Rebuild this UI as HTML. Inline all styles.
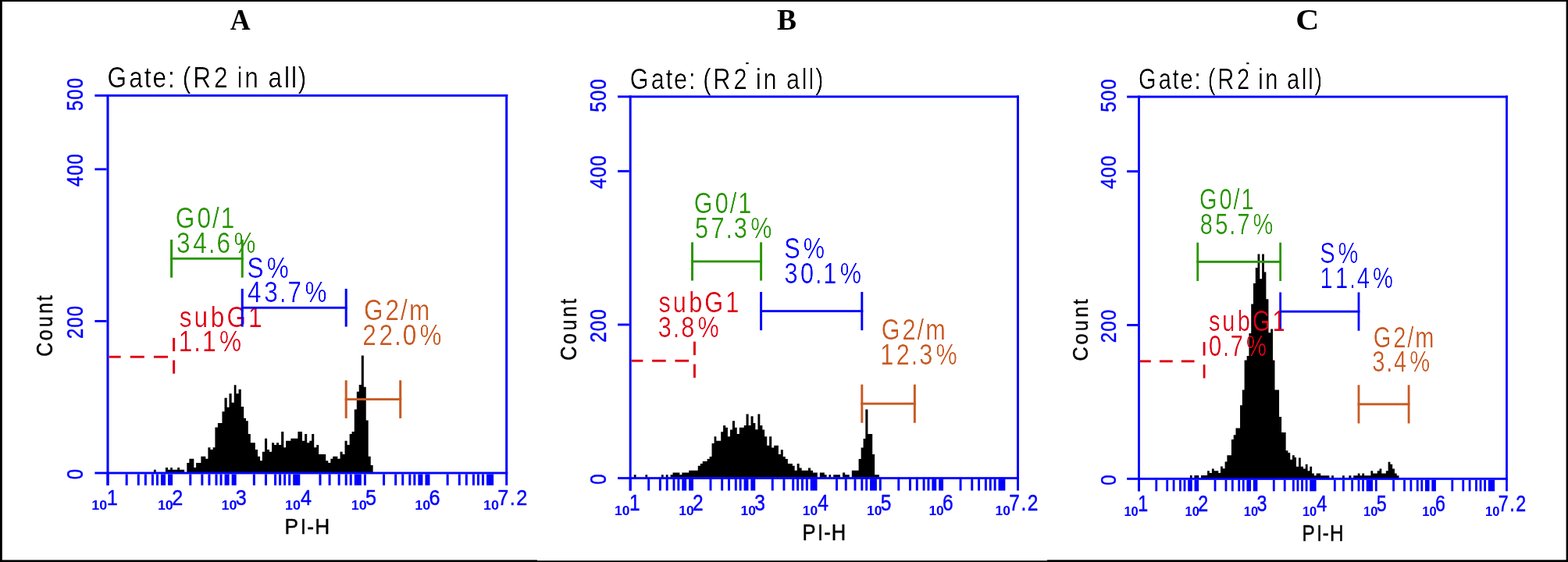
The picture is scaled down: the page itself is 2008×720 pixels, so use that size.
<!DOCTYPE html>
<html><head><meta charset="utf-8"><title>Cell cycle histograms</title>
<style>
html,body{margin:0;padding:0;background:#fff;}
body{width:2008px;height:720px;overflow:hidden;}
svg{display:block;}
text{white-space:pre;}
</style></head><body>
<svg width="2008" height="720" viewBox="0 0 2008 720">
<defs><filter id="thin" x="-5%" y="-20%" width="110%" height="140%" color-interpolation-filters="sRGB"><feComponentTransfer><feFuncA type="linear" slope="1.5" intercept="-0.5"/></feComponentTransfer></filter></defs>
<rect x="0" y="0" width="2008" height="720" fill="#fff"/>
<path d="M196.94 605.07V601.67H199.72V605.07ZM211.94 605.07V598.89H215.00V601.67H218.19V598.89H220.83V601.67H227.22V598.89H230.00V601.67H236.11V605.07ZM239.31 605.07V593.06H242.36V587.78H248.33V598.89H251.11V593.06H257.36V584.72H263.33V587.78H266.39V573.19H269.44V575.97H272.64V573.19H275.42V547.50H278.89V541.94H284.44V527.22H287.50V509.86H290.69V521.67H293.47V504.31H296.67V515.83H299.72V493.19H302.50V504.31H305.56V498.75H308.75V521.11H312.22V535.69H315.00V539.17H317.78V556.11H320.83V567.22H326.81V575.97H330.00V584.72H333.06V590.28H335.83V578.75H339.03V561.67H342.08V575.97H345.00V578.75H348.06V567.22H351.11V570.00H354.03V567.22H357.08V570.00H360.14V553.06H363.33V573.19H366.11V564.86H372.36V561.67H381.39V553.06H386.94V564.86H390.14V556.11H393.19V567.22H396.25V564.86H399.17V556.11H402.22V573.19H405.28V570.00H408.19V581.94H417.22V590.28H420.28V593.06H423.33V587.78H426.25V584.72H432.36V587.78H435.56V578.75H438.61V581.94H441.53V564.86H444.58V570.00H447.64V556.11H450.56V553.06H453.75V524.44H456.81V501.81H459.72V493.06H462.78V455.56H465.83V495.83H468.75V538.61H471.67V584.72H474.72V596.11H477.64V605.07Z" fill="#000"/>
<rect x="121.38" y="120.97" width="528.83" height="2.86" fill="#0000ff"/>
<rect x="121.38" y="604.57" width="528.83" height="2.86" fill="#0000ff"/>
<rect x="136.49" y="120.97" width="3.02" height="500.77" fill="#0000ff"/>
<rect x="647.19" y="120.97" width="3.02" height="500.77" fill="#0000ff"/>
<rect x="121.38" y="215.40" width="15.11" height="2.86" fill="#0000ff"/>
<rect x="121.38" y="409.98" width="15.11" height="2.86" fill="#0000ff"/>
<rect x="136.49" y="607.43" width="3.02" height="14.31" fill="#0000ff"/>
<rect x="160.66" y="607.43" width="3.02" height="14.31" fill="#0000ff"/>
<rect x="175.77" y="607.43" width="3.02" height="14.31" fill="#0000ff"/>
<rect x="184.84" y="607.43" width="3.02" height="14.31" fill="#0000ff"/>
<rect x="193.91" y="607.43" width="3.02" height="14.31" fill="#0000ff"/>
<rect x="199.95" y="607.43" width="3.02" height="14.31" fill="#0000ff"/>
<rect x="205.99" y="607.43" width="6.04" height="14.31" fill="#0000ff"/>
<rect x="215.06" y="607.43" width="6.04" height="14.31" fill="#0000ff"/>
<rect x="242.26" y="607.43" width="3.02" height="14.31" fill="#0000ff"/>
<rect x="257.36" y="607.43" width="3.02" height="14.31" fill="#0000ff"/>
<rect x="266.43" y="607.43" width="3.02" height="14.31" fill="#0000ff"/>
<rect x="275.50" y="607.43" width="3.02" height="14.31" fill="#0000ff"/>
<rect x="281.54" y="607.43" width="3.02" height="14.31" fill="#0000ff"/>
<rect x="287.58" y="607.43" width="6.04" height="14.31" fill="#0000ff"/>
<rect x="296.65" y="607.43" width="6.04" height="14.31" fill="#0000ff"/>
<rect x="323.85" y="607.43" width="3.02" height="14.31" fill="#0000ff"/>
<rect x="338.96" y="607.43" width="3.02" height="14.31" fill="#0000ff"/>
<rect x="351.04" y="607.43" width="3.02" height="14.31" fill="#0000ff"/>
<rect x="357.09" y="607.43" width="3.02" height="14.31" fill="#0000ff"/>
<rect x="363.13" y="607.43" width="3.02" height="14.31" fill="#0000ff"/>
<rect x="369.17" y="607.43" width="3.02" height="14.31" fill="#0000ff"/>
<rect x="375.22" y="607.43" width="9.07" height="14.31" fill="#0000ff"/>
<rect x="408.46" y="607.43" width="3.02" height="14.31" fill="#0000ff"/>
<rect x="420.55" y="607.43" width="3.02" height="14.31" fill="#0000ff"/>
<rect x="432.63" y="607.43" width="3.02" height="14.31" fill="#0000ff"/>
<rect x="441.70" y="607.43" width="3.02" height="14.31" fill="#0000ff"/>
<rect x="447.74" y="607.43" width="3.02" height="14.31" fill="#0000ff"/>
<rect x="453.79" y="607.43" width="9.07" height="14.31" fill="#0000ff"/>
<rect x="465.88" y="607.43" width="3.02" height="14.31" fill="#0000ff"/>
<rect x="490.05" y="607.43" width="3.02" height="14.31" fill="#0000ff"/>
<rect x="505.16" y="607.43" width="3.02" height="14.31" fill="#0000ff"/>
<rect x="514.23" y="607.43" width="3.02" height="14.31" fill="#0000ff"/>
<rect x="523.29" y="607.43" width="3.02" height="14.31" fill="#0000ff"/>
<rect x="529.34" y="607.43" width="3.02" height="14.31" fill="#0000ff"/>
<rect x="535.38" y="607.43" width="6.04" height="14.31" fill="#0000ff"/>
<rect x="544.44" y="607.43" width="6.04" height="14.31" fill="#0000ff"/>
<rect x="571.64" y="607.43" width="3.02" height="14.31" fill="#0000ff"/>
<rect x="586.75" y="607.43" width="3.02" height="14.31" fill="#0000ff"/>
<rect x="595.82" y="607.43" width="3.02" height="14.31" fill="#0000ff"/>
<rect x="604.88" y="607.43" width="3.02" height="14.31" fill="#0000ff"/>
<rect x="610.93" y="607.43" width="3.02" height="14.31" fill="#0000ff"/>
<rect x="616.97" y="607.43" width="3.02" height="14.31" fill="#0000ff"/>
<rect x="623.01" y="607.43" width="9.07" height="14.31" fill="#0000ff"/>
<rect x="139.51" y="455.77" width="15.11" height="2.86" fill="#de0014"/>
<rect x="166.71" y="455.77" width="18.13" height="2.86" fill="#de0014"/>
<rect x="196.93" y="455.77" width="18.13" height="2.86" fill="#de0014"/>
<rect x="221.10" y="432.88" width="3.02" height="17.17" fill="#de0014"/>
<rect x="221.10" y="461.49" width="3.02" height="17.17" fill="#de0014"/>
<rect x="218.08" y="306.97" width="3.02" height="48.65" fill="#299503"/>
<rect x="308.74" y="306.97" width="3.02" height="48.65" fill="#299503"/>
<rect x="218.08" y="329.86" width="93.68" height="2.86" fill="#299503"/>
<rect x="441.70" y="487.25" width="3.02" height="48.65" fill="#c85a23"/>
<rect x="511.20" y="487.25" width="3.02" height="48.65" fill="#c85a23"/>
<rect x="441.70" y="510.14" width="72.53" height="2.86" fill="#c85a23"/>
<text transform="translate(294.64 38.00) scale(0.3589 0.3893)" font-family="'Liberation Serif', sans-serif" font-size="100" font-weight="bold" fill="#000">A</text>
<text transform="translate(117.28 653.22) scale(0.1795 0.1659)" font-family="'Liberation Sans', sans-serif" font-size="100" font-weight="bold" fill="#0000ff">10</text>
<text transform="translate(201.89 653.22) scale(0.1795 0.1659)" font-family="'Liberation Sans', sans-serif" font-size="100" font-weight="bold" fill="#0000ff">10</text>
<text transform="translate(283.48 653.22) scale(0.1795 0.1659)" font-family="'Liberation Sans', sans-serif" font-size="100" font-weight="bold" fill="#0000ff">10</text>
<text transform="translate(365.08 653.22) scale(0.1795 0.1659)" font-family="'Liberation Sans', sans-serif" font-size="100" font-weight="bold" fill="#0000ff">10</text>
<text transform="translate(449.69 653.22) scale(0.1795 0.1659)" font-family="'Liberation Sans', sans-serif" font-size="100" font-weight="bold" fill="#0000ff">10</text>
<text transform="translate(531.28 653.22) scale(0.1795 0.1659)" font-family="'Liberation Sans', sans-serif" font-size="100" font-weight="bold" fill="#0000ff">10</text>
<text transform="translate(618.91 653.22) scale(0.1795 0.1659)" font-family="'Liberation Sans', sans-serif" font-size="100" font-weight="bold" fill="#0000ff">10</text>
<text transform="translate(136.27 112.38) scale(0.3155 0.3732)" x="4.2 91.9 153.7 187.7 249.5 278.3 309.0 351.8 436.8 498.6 530.1 561.3 623.1 657.1 721.6 750.4 778.4" font-family="'Liberation Sans', sans-serif" font-size="100" filter="url(#thin)" fill="#000">Gate: (R2 in all)</text>
<text transform="translate(106.05 142.48) rotate(-90) scale(0.2390 0.3002)" x="2.1 62.0 121.9" font-family="'Liberation Sans', sans-serif" font-size="100" stroke="#0000ff" stroke-width="1.60" stroke-linejoin="round" fill="#0000ff">500</text>
<text transform="translate(106.05 239.53) rotate(-90) scale(0.2390 0.3002)" x="2.1 62.0 121.9" font-family="'Liberation Sans', sans-serif" font-size="100" stroke="#0000ff" stroke-width="1.60" stroke-linejoin="round" fill="#0000ff">400</text>
<text transform="translate(106.05 434.47) rotate(-90) scale(0.2390 0.3002)" x="2.1 62.0 121.9" font-family="'Liberation Sans', sans-serif" font-size="100" stroke="#0000ff" stroke-width="1.60" stroke-linejoin="round" fill="#0000ff">200</text>
<text transform="translate(106.05 614.63) rotate(-90) scale(0.2390 0.3002)" x="2.1" font-family="'Liberation Sans', sans-serif" font-size="100" stroke="#0000ff" stroke-width="1.60" stroke-linejoin="round" fill="#0000ff">0</text>
<text transform="translate(66.76 457.82) rotate(-90) scale(0.2490 0.3002)" x="4.1 87.1 156.1 225.1 290.7" font-family="'Liberation Sans', sans-serif" font-size="100" stroke="#000" stroke-width="1.60" stroke-linejoin="round" fill="#000">Count</text>
<text transform="translate(362.80 684.48) scale(0.2629 0.2842)" x="6.9 83.8 115.5 153.5" font-family="'Liberation Sans', sans-serif" font-size="100" stroke="#000" stroke-width="1.60" stroke-linejoin="round" fill="#000">PI-H</text>
<text transform="translate(136.13 647.28) scale(0.2524 0.2842)" x="2.1" font-family="'Liberation Sans', sans-serif" font-size="100" stroke="#0000ff" stroke-width="1.60" stroke-linejoin="round" fill="#0000ff">1</text>
<text transform="translate(219.61 647.28) scale(0.2524 0.2842)" x="2.1" font-family="'Liberation Sans', sans-serif" font-size="100" stroke="#0000ff" stroke-width="1.60" stroke-linejoin="round" fill="#0000ff">2</text>
<text transform="translate(301.20 647.28) scale(0.2524 0.2842)" x="2.1" font-family="'Liberation Sans', sans-serif" font-size="100" stroke="#0000ff" stroke-width="1.60" stroke-linejoin="round" fill="#0000ff">3</text>
<text transform="translate(384.43 647.28) scale(0.2524 0.2842)" x="2.1" font-family="'Liberation Sans', sans-serif" font-size="100" stroke="#0000ff" stroke-width="1.60" stroke-linejoin="round" fill="#0000ff">4</text>
<text transform="translate(467.40 647.28) scale(0.2524 0.2842)" x="2.1" font-family="'Liberation Sans', sans-serif" font-size="100" stroke="#0000ff" stroke-width="1.60" stroke-linejoin="round" fill="#0000ff">5</text>
<text transform="translate(548.87 647.28) scale(0.2524 0.2842)" x="2.1" font-family="'Liberation Sans', sans-serif" font-size="100" stroke="#0000ff" stroke-width="1.60" stroke-linejoin="round" fill="#0000ff">6</text>
<text transform="translate(636.63 647.28) scale(0.2524 0.2842)" x="2.1 63.9 97.9" font-family="'Liberation Sans', sans-serif" font-size="100" stroke="#0000ff" stroke-width="1.60" stroke-linejoin="round" fill="#0000ff">7.2</text>
<text transform="translate(223.53 292.20) scale(0.3155 0.3696)" x="4.2 91.9 153.7 187.7" font-family="'Liberation Sans', sans-serif" font-size="100" filter="url(#thin)" fill="#299503">G0/1</text>
<text transform="translate(224.27 323.80) scale(0.3155 0.3696)" x="5.7 72.8 134.6 168.6 238.1" font-family="'Liberation Sans', sans-serif" font-size="100" filter="url(#thin)" fill="#299503">34.6%</text>
<text transform="translate(315.04 355.60) scale(0.3155 0.3725)" x="5.0 84.9" font-family="'Liberation Sans', sans-serif" font-size="100" filter="url(#thin)" fill="#0000ff">S%</text>
<text transform="translate(315.29 387.10) scale(0.3155 0.3725)" x="5.7 72.8 134.6 168.6 238.1" font-family="'Liberation Sans', sans-serif" font-size="100" filter="url(#thin)" fill="#0000ff">43.7%</text>
<text transform="translate(228.66 418.60) scale(0.3155 0.3725)" x="3.7 63.2 130.2 195.8 283.5" font-family="'Liberation Sans', sans-serif" font-size="100" filter="url(#thin)" fill="#de0014">subG1</text>
<text transform="translate(227.05 450.10) scale(0.3155 0.3739)" x="5.7 67.5 101.5 171.1" font-family="'Liberation Sans', sans-serif" font-size="100" filter="url(#thin)" fill="#de0014">1.1%</text>
<text transform="translate(464.58 410.00) scale(0.3155 0.3725)" x="4.2 91.9 153.7 188.2" font-family="'Liberation Sans', sans-serif" font-size="100" filter="url(#thin)" fill="#c85a23">G2/m</text>
<text transform="translate(462.51 441.50) scale(0.3155 0.3732)" x="5.7 72.8 134.6 168.6 238.1" font-family="'Liberation Sans', sans-serif" font-size="100" filter="url(#thin)" fill="#c85a23">22.0%</text>
<rect x="308.74" y="369.92" width="3.02" height="48.65" fill="#0000ff"/>
<rect x="441.70" y="369.92" width="3.02" height="48.65" fill="#0000ff"/>
<rect x="308.74" y="392.82" width="135.99" height="2.86" fill="#0000ff"/>
<path d="M811.81 611.65V608.19H814.58V611.65ZM826.39 611.65V608.19H829.17V611.65ZM846.94 611.65V608.19H849.72V611.65ZM852.78 611.65V608.19H855.56V611.65ZM858.61 611.65V608.19H861.53V605.42H870.42V608.19H873.33V605.42H882.22V602.64H893.75V596.81H896.81V594.03H899.72V591.11H905.56V588.06H908.61V585.00H911.53V567.92H914.58V559.31H917.36V564.72H923.19V553.33H926.11V545.00H929.17V547.78H931.94V559.31H935.00V550.56H937.92V539.17H940.97V547.78H943.75V556.11H946.81V547.78H952.78V545.00H955.56V530.42H958.61V545.00H961.53V533.19H964.58V541.94H967.36V550.28H970.42V530.42H973.33V545.00H976.39V550.56H979.17V559.31H982.22V570.69H985.14V559.31H988.19V573.47H991.25V570.69H996.94V582.08H999.86V576.25H1002.78V585.00H1005.83V588.06H1008.89V594.03H1014.86V596.81H1017.64V602.64H1020.69V594.03H1023.61V599.58H1026.67V602.64H1035.00V599.58H1038.06V602.64H1040.97V605.42H1046.81V611.65ZM1049.86 611.65V605.42H1055.83V608.19H1058.61V611.65ZM1061.39 611.65V608.19H1064.17V611.65ZM1067.22 611.65V608.19H1075.97V611.65ZM1079.03 611.65V605.42H1082.22V608.19H1087.78V611.65ZM1090.83 611.65V602.64H1099.58V588.06H1102.64V573.47H1105.56V562.08H1108.33V524.58H1111.39V556.11H1117.22V582.08H1120.14V608.19H1125.97V611.65Z" fill="#000"/>
<rect x="791.05" y="122.40" width="513.92" height="2.89" fill="#0000ff"/>
<rect x="791.05" y="611.15" width="513.92" height="2.89" fill="#0000ff"/>
<rect x="805.73" y="122.40" width="2.94" height="506.10" fill="#0000ff"/>
<rect x="1302.03" y="122.40" width="2.94" height="506.10" fill="#0000ff"/>
<rect x="791.05" y="217.84" width="14.68" height="2.89" fill="#0000ff"/>
<rect x="791.05" y="414.50" width="14.68" height="2.89" fill="#0000ff"/>
<rect x="805.73" y="614.05" width="2.94" height="14.46" fill="#0000ff"/>
<rect x="829.23" y="614.05" width="2.94" height="14.46" fill="#0000ff"/>
<rect x="843.91" y="614.05" width="2.94" height="14.46" fill="#0000ff"/>
<rect x="852.72" y="614.05" width="2.94" height="14.46" fill="#0000ff"/>
<rect x="861.53" y="614.05" width="2.94" height="14.46" fill="#0000ff"/>
<rect x="867.40" y="614.05" width="2.94" height="14.46" fill="#0000ff"/>
<rect x="873.28" y="614.05" width="5.87" height="14.46" fill="#0000ff"/>
<rect x="882.09" y="614.05" width="5.87" height="14.46" fill="#0000ff"/>
<rect x="908.52" y="614.05" width="2.94" height="14.46" fill="#0000ff"/>
<rect x="923.20" y="614.05" width="2.94" height="14.46" fill="#0000ff"/>
<rect x="932.01" y="614.05" width="2.94" height="14.46" fill="#0000ff"/>
<rect x="940.82" y="614.05" width="2.94" height="14.46" fill="#0000ff"/>
<rect x="946.69" y="614.05" width="2.94" height="14.46" fill="#0000ff"/>
<rect x="952.57" y="614.05" width="5.87" height="14.46" fill="#0000ff"/>
<rect x="961.38" y="614.05" width="5.87" height="14.46" fill="#0000ff"/>
<rect x="987.81" y="614.05" width="2.94" height="14.46" fill="#0000ff"/>
<rect x="1002.49" y="614.05" width="2.94" height="14.46" fill="#0000ff"/>
<rect x="1014.24" y="614.05" width="2.94" height="14.46" fill="#0000ff"/>
<rect x="1020.11" y="614.05" width="2.94" height="14.46" fill="#0000ff"/>
<rect x="1025.98" y="614.05" width="2.94" height="14.46" fill="#0000ff"/>
<rect x="1031.86" y="614.05" width="2.94" height="14.46" fill="#0000ff"/>
<rect x="1037.73" y="614.05" width="8.81" height="14.46" fill="#0000ff"/>
<rect x="1070.03" y="614.05" width="2.94" height="14.46" fill="#0000ff"/>
<rect x="1081.78" y="614.05" width="2.94" height="14.46" fill="#0000ff"/>
<rect x="1093.53" y="614.05" width="2.94" height="14.46" fill="#0000ff"/>
<rect x="1102.34" y="614.05" width="2.94" height="14.46" fill="#0000ff"/>
<rect x="1108.21" y="614.05" width="2.94" height="14.46" fill="#0000ff"/>
<rect x="1114.08" y="614.05" width="8.81" height="14.46" fill="#0000ff"/>
<rect x="1125.83" y="614.05" width="2.94" height="14.46" fill="#0000ff"/>
<rect x="1149.32" y="614.05" width="2.94" height="14.46" fill="#0000ff"/>
<rect x="1164.01" y="614.05" width="2.94" height="14.46" fill="#0000ff"/>
<rect x="1172.82" y="614.05" width="2.94" height="14.46" fill="#0000ff"/>
<rect x="1181.63" y="614.05" width="2.94" height="14.46" fill="#0000ff"/>
<rect x="1187.50" y="614.05" width="2.94" height="14.46" fill="#0000ff"/>
<rect x="1193.37" y="614.05" width="5.87" height="14.46" fill="#0000ff"/>
<rect x="1202.18" y="614.05" width="5.87" height="14.46" fill="#0000ff"/>
<rect x="1228.61" y="614.05" width="2.94" height="14.46" fill="#0000ff"/>
<rect x="1243.30" y="614.05" width="2.94" height="14.46" fill="#0000ff"/>
<rect x="1252.11" y="614.05" width="2.94" height="14.46" fill="#0000ff"/>
<rect x="1260.92" y="614.05" width="2.94" height="14.46" fill="#0000ff"/>
<rect x="1266.79" y="614.05" width="2.94" height="14.46" fill="#0000ff"/>
<rect x="1272.66" y="614.05" width="2.94" height="14.46" fill="#0000ff"/>
<rect x="1278.54" y="614.05" width="8.81" height="14.46" fill="#0000ff"/>
<rect x="808.67" y="460.77" width="14.68" height="2.89" fill="#de0014"/>
<rect x="835.10" y="460.77" width="17.62" height="2.89" fill="#de0014"/>
<rect x="864.47" y="460.77" width="17.62" height="2.89" fill="#de0014"/>
<rect x="887.96" y="437.63" width="2.94" height="17.35" fill="#de0014"/>
<rect x="887.96" y="466.55" width="2.94" height="17.35" fill="#de0014"/>
<rect x="885.02" y="310.38" width="2.94" height="49.16" fill="#299503"/>
<rect x="973.12" y="310.38" width="2.94" height="49.16" fill="#299503"/>
<rect x="885.02" y="333.52" width="91.04" height="2.89" fill="#299503"/>
<rect x="973.12" y="374.01" width="2.94" height="49.16" fill="#0000ff"/>
<rect x="1102.34" y="374.01" width="2.94" height="49.16" fill="#0000ff"/>
<rect x="973.12" y="397.15" width="132.15" height="2.89" fill="#0000ff"/>
<rect x="1102.34" y="492.58" width="2.94" height="49.16" fill="#c85a23"/>
<rect x="1169.88" y="492.58" width="2.94" height="49.16" fill="#c85a23"/>
<rect x="1102.34" y="515.72" width="70.48" height="2.89" fill="#c85a23"/>
<text transform="translate(994.94 38.00) scale(0.3760 0.3817)" font-family="'Liberation Serif', sans-serif" font-size="100" font-weight="bold" fill="#000">B</text>
<text transform="translate(787.06 660.32) scale(0.1745 0.1677)" font-family="'Liberation Sans', sans-serif" font-size="100" font-weight="bold" fill="#0000ff">10</text>
<text transform="translate(869.29 660.32) scale(0.1745 0.1677)" font-family="'Liberation Sans', sans-serif" font-size="100" font-weight="bold" fill="#0000ff">10</text>
<text transform="translate(948.58 660.32) scale(0.1745 0.1677)" font-family="'Liberation Sans', sans-serif" font-size="100" font-weight="bold" fill="#0000ff">10</text>
<text transform="translate(1027.87 660.32) scale(0.1745 0.1677)" font-family="'Liberation Sans', sans-serif" font-size="100" font-weight="bold" fill="#0000ff">10</text>
<text transform="translate(1110.10 660.32) scale(0.1745 0.1677)" font-family="'Liberation Sans', sans-serif" font-size="100" font-weight="bold" fill="#0000ff">10</text>
<text transform="translate(1189.39 660.32) scale(0.1745 0.1677)" font-family="'Liberation Sans', sans-serif" font-size="100" font-weight="bold" fill="#0000ff">10</text>
<text transform="translate(1274.55 660.32) scale(0.1745 0.1677)" font-family="'Liberation Sans', sans-serif" font-size="100" font-weight="bold" fill="#0000ff">10</text>
<text transform="translate(805.52 113.73) scale(0.3066 0.3772)" x="4.2 91.9 153.7 187.7 249.5 278.3 309.0 351.8 436.8 498.6 530.1 561.3 623.1 657.1 721.6 750.4 778.4" font-family="'Liberation Sans', sans-serif" font-size="100" filter="url(#thin)" fill="#000">Gate: (R2 in all)</text>
<text transform="translate(776.15 144.14) rotate(-90) scale(0.2415 0.2917)" x="2.1 62.0 121.9" font-family="'Liberation Sans', sans-serif" font-size="100" stroke="#0000ff" stroke-width="1.60" stroke-linejoin="round" fill="#0000ff">500</text>
<text transform="translate(776.15 242.23) rotate(-90) scale(0.2415 0.2917)" x="2.1 62.0 121.9" font-family="'Liberation Sans', sans-serif" font-size="100" stroke="#0000ff" stroke-width="1.60" stroke-linejoin="round" fill="#0000ff">400</text>
<text transform="translate(776.15 439.25) rotate(-90) scale(0.2415 0.2917)" x="2.1 62.0 121.9" font-family="'Liberation Sans', sans-serif" font-size="100" stroke="#0000ff" stroke-width="1.60" stroke-linejoin="round" fill="#0000ff">200</text>
<text transform="translate(776.15 621.32) rotate(-90) scale(0.2415 0.2917)" x="2.1" font-family="'Liberation Sans', sans-serif" font-size="100" stroke="#0000ff" stroke-width="1.60" stroke-linejoin="round" fill="#0000ff">0</text>
<text transform="translate(737.97 462.84) rotate(-90) scale(0.2516 0.2917)" x="4.1 87.1 156.1 225.1 290.7" font-family="'Liberation Sans', sans-serif" font-size="100" stroke="#000" stroke-width="1.60" stroke-linejoin="round" fill="#000">Count</text>
<text transform="translate(1025.66 691.92) scale(0.2555 0.2873)" x="6.9 83.8 115.5 153.5" font-family="'Liberation Sans', sans-serif" font-size="100" stroke="#000" stroke-width="1.60" stroke-linejoin="round" fill="#000">PI-H</text>
<text transform="translate(805.38 654.32) scale(0.2453 0.2873)" x="2.1" font-family="'Liberation Sans', sans-serif" font-size="100" stroke="#0000ff" stroke-width="1.60" stroke-linejoin="round" fill="#0000ff">1</text>
<text transform="translate(886.50 654.32) scale(0.2453 0.2873)" x="2.1" font-family="'Liberation Sans', sans-serif" font-size="100" stroke="#0000ff" stroke-width="1.60" stroke-linejoin="round" fill="#0000ff">2</text>
<text transform="translate(965.80 654.32) scale(0.2453 0.2873)" x="2.1" font-family="'Liberation Sans', sans-serif" font-size="100" stroke="#0000ff" stroke-width="1.60" stroke-linejoin="round" fill="#0000ff">3</text>
<text transform="translate(1046.68 654.32) scale(0.2453 0.2873)" x="2.1" font-family="'Liberation Sans', sans-serif" font-size="100" stroke="#0000ff" stroke-width="1.60" stroke-linejoin="round" fill="#0000ff">4</text>
<text transform="translate(1127.31 654.32) scale(0.2453 0.2873)" x="2.1" font-family="'Liberation Sans', sans-serif" font-size="100" stroke="#0000ff" stroke-width="1.60" stroke-linejoin="round" fill="#0000ff">5</text>
<text transform="translate(1206.48 654.32) scale(0.2453 0.2873)" x="2.1" font-family="'Liberation Sans', sans-serif" font-size="100" stroke="#0000ff" stroke-width="1.60" stroke-linejoin="round" fill="#0000ff">6</text>
<text transform="translate(1291.77 654.32) scale(0.2453 0.2873)" x="2.1 63.9 97.9" font-family="'Liberation Sans', sans-serif" font-size="100" stroke="#0000ff" stroke-width="1.60" stroke-linejoin="round" fill="#0000ff">7.2</text>
<text transform="translate(887.59 273.00) scale(0.3066 0.3768)" x="4.2 91.9 153.7 187.7" font-family="'Liberation Sans', sans-serif" font-size="100" filter="url(#thin)" fill="#299503">G0/1</text>
<text transform="translate(888.15 304.50) scale(0.3066 0.3732)" x="5.7 72.8 134.6 168.6 238.1" font-family="'Liberation Sans', sans-serif" font-size="100" filter="url(#thin)" fill="#299503">57.3%</text>
<text transform="translate(1002.69 330.80) scale(0.3066 0.3739)" x="5.0 84.9" font-family="'Liberation Sans', sans-serif" font-size="100" filter="url(#thin)" fill="#0000ff">S%</text>
<text transform="translate(1002.65 362.70) scale(0.3066 0.3725)" x="5.7 72.8 134.6 168.6 238.1" font-family="'Liberation Sans', sans-serif" font-size="100" filter="url(#thin)" fill="#0000ff">30.1%</text>
<text transform="translate(842.31 400.20) scale(0.3066 0.3725)" x="3.7 63.2 130.2 195.8 283.5" font-family="'Liberation Sans', sans-serif" font-size="100" filter="url(#thin)" fill="#de0014">subG1</text>
<text transform="translate(841.08 432.00) scale(0.3066 0.3732)" x="5.7 67.5 101.5 171.1" font-family="'Liberation Sans', sans-serif" font-size="100" filter="url(#thin)" fill="#de0014">3.8%</text>
<text transform="translate(1127.43 435.30) scale(0.3066 0.3739)" x="4.2 91.9 153.7 188.2" font-family="'Liberation Sans', sans-serif" font-size="100" filter="url(#thin)" fill="#c85a23">G2/m</text>
<text transform="translate(1125.48 467.00) scale(0.3066 0.3732)" x="5.7 72.8 134.6 168.6 238.1" font-family="'Liberation Sans', sans-serif" font-size="100" filter="url(#thin)" fill="#c85a23">12.3%</text>
<rect x="955.30" y="80.02" width="3.34" height="2.09" fill="#000"/>
<path d="M1523.89 612.45V608.89H1526.67V612.45ZM1529.44 612.45V608.89H1535.28V612.45ZM1538.06 612.45V608.89H1546.11V603.33H1548.89V606.11H1551.94V600.56H1554.72V603.33H1560.28V606.11H1563.06V597.50H1565.83V600.28H1568.61V591.53H1571.39V583.19H1576.94V563.06H1579.72V557.22H1582.50V548.47H1588.06V519.31H1590.83V499.44H1593.61V461.39H1596.67V456.11H1599.44V426.94H1602.22V389.44H1605.00V363.06H1607.78V342.92H1610.56V325.56H1613.33V357.22H1616.11V325.56H1618.89V348.47H1621.39V383.19H1624.44V426.25H1627.22V421.39H1630.00V461.39H1632.50V499.44H1638.06V533.89H1641.11V554.03H1646.67V577.22H1649.44V580.00H1652.22V588.75H1655.00V583.19H1657.78V585.97H1660.00V597.64H1663.06V586.53H1665.83V597.64H1669.03V600.42H1671.81V594.86H1674.58V603.19H1677.36V597.64H1680.14V606.39H1682.92V609.17H1685.69V606.39H1691.25V609.17H1702.36V612.45ZM1705.14 612.45V609.17H1707.92V612.45ZM1719.03 612.45V609.17H1721.81V612.45ZM1727.36 612.45V609.17H1730.42V612.45ZM1733.19 612.45V609.17H1738.75V606.39H1741.53V609.17H1744.31V606.39H1747.08V609.17H1755.42V603.19H1758.19V606.39H1763.75V603.19H1766.53V600.42H1769.31V606.39H1774.86V603.19H1777.64V591.67H1780.42V594.86H1783.19V600.42H1785.97V606.39H1788.75V609.17H1791.53V612.45Z" fill="#000"/>
<rect x="1443.17" y="122.55" width="487.72" height="2.90" fill="#0000ff"/>
<rect x="1443.17" y="611.95" width="487.72" height="2.90" fill="#0000ff"/>
<rect x="1457.11" y="122.55" width="2.79" height="506.78" fill="#0000ff"/>
<rect x="1928.11" y="122.55" width="2.79" height="506.78" fill="#0000ff"/>
<rect x="1443.17" y="218.12" width="13.93" height="2.90" fill="#0000ff"/>
<rect x="1443.17" y="415.03" width="13.93" height="2.90" fill="#0000ff"/>
<rect x="1457.11" y="614.85" width="2.79" height="14.48" fill="#0000ff"/>
<rect x="1479.40" y="614.85" width="2.79" height="14.48" fill="#0000ff"/>
<rect x="1493.34" y="614.85" width="2.79" height="14.48" fill="#0000ff"/>
<rect x="1501.70" y="614.85" width="2.79" height="14.48" fill="#0000ff"/>
<rect x="1510.06" y="614.85" width="2.79" height="14.48" fill="#0000ff"/>
<rect x="1515.63" y="614.85" width="2.79" height="14.48" fill="#0000ff"/>
<rect x="1521.21" y="614.85" width="5.57" height="14.48" fill="#0000ff"/>
<rect x="1529.57" y="614.85" width="5.57" height="14.48" fill="#0000ff"/>
<rect x="1554.65" y="614.85" width="2.79" height="14.48" fill="#0000ff"/>
<rect x="1568.59" y="614.85" width="2.79" height="14.48" fill="#0000ff"/>
<rect x="1576.95" y="614.85" width="2.79" height="14.48" fill="#0000ff"/>
<rect x="1585.31" y="614.85" width="2.79" height="14.48" fill="#0000ff"/>
<rect x="1590.88" y="614.85" width="2.79" height="14.48" fill="#0000ff"/>
<rect x="1596.46" y="614.85" width="5.57" height="14.48" fill="#0000ff"/>
<rect x="1604.82" y="614.85" width="5.57" height="14.48" fill="#0000ff"/>
<rect x="1629.90" y="614.85" width="2.79" height="14.48" fill="#0000ff"/>
<rect x="1643.83" y="614.85" width="2.79" height="14.48" fill="#0000ff"/>
<rect x="1654.98" y="614.85" width="2.79" height="14.48" fill="#0000ff"/>
<rect x="1660.56" y="614.85" width="2.79" height="14.48" fill="#0000ff"/>
<rect x="1666.13" y="614.85" width="2.79" height="14.48" fill="#0000ff"/>
<rect x="1671.70" y="614.85" width="2.79" height="14.48" fill="#0000ff"/>
<rect x="1677.28" y="614.85" width="8.36" height="14.48" fill="#0000ff"/>
<rect x="1707.93" y="614.85" width="2.79" height="14.48" fill="#0000ff"/>
<rect x="1719.08" y="614.85" width="2.79" height="14.48" fill="#0000ff"/>
<rect x="1730.23" y="614.85" width="2.79" height="14.48" fill="#0000ff"/>
<rect x="1738.59" y="614.85" width="2.79" height="14.48" fill="#0000ff"/>
<rect x="1744.17" y="614.85" width="2.79" height="14.48" fill="#0000ff"/>
<rect x="1749.74" y="614.85" width="8.36" height="14.48" fill="#0000ff"/>
<rect x="1760.89" y="614.85" width="2.79" height="14.48" fill="#0000ff"/>
<rect x="1783.18" y="614.85" width="2.79" height="14.48" fill="#0000ff"/>
<rect x="1797.12" y="614.85" width="2.79" height="14.48" fill="#0000ff"/>
<rect x="1805.48" y="614.85" width="2.79" height="14.48" fill="#0000ff"/>
<rect x="1813.84" y="614.85" width="2.79" height="14.48" fill="#0000ff"/>
<rect x="1819.41" y="614.85" width="2.79" height="14.48" fill="#0000ff"/>
<rect x="1824.99" y="614.85" width="5.57" height="14.48" fill="#0000ff"/>
<rect x="1833.35" y="614.85" width="5.57" height="14.48" fill="#0000ff"/>
<rect x="1858.43" y="614.85" width="2.79" height="14.48" fill="#0000ff"/>
<rect x="1872.37" y="614.85" width="2.79" height="14.48" fill="#0000ff"/>
<rect x="1880.73" y="614.85" width="2.79" height="14.48" fill="#0000ff"/>
<rect x="1889.09" y="614.85" width="2.79" height="14.48" fill="#0000ff"/>
<rect x="1894.66" y="614.85" width="2.79" height="14.48" fill="#0000ff"/>
<rect x="1900.24" y="614.85" width="2.79" height="14.48" fill="#0000ff"/>
<rect x="1905.81" y="614.85" width="8.36" height="14.48" fill="#0000ff"/>
<rect x="1459.89" y="461.37" width="13.93" height="2.90" fill="#de0014"/>
<rect x="1484.98" y="461.37" width="16.72" height="2.90" fill="#de0014"/>
<rect x="1512.85" y="461.37" width="16.72" height="2.90" fill="#de0014"/>
<rect x="1540.72" y="438.20" width="2.79" height="17.38" fill="#de0014"/>
<rect x="1540.72" y="467.16" width="2.79" height="17.38" fill="#de0014"/>
<rect x="1532.36" y="310.78" width="2.79" height="49.23" fill="#299503"/>
<rect x="1638.26" y="310.78" width="2.79" height="49.23" fill="#299503"/>
<rect x="1532.36" y="333.95" width="108.69" height="2.90" fill="#299503"/>
<rect x="1638.26" y="374.49" width="2.79" height="49.23" fill="#0000ff"/>
<rect x="1738.59" y="374.49" width="2.79" height="49.23" fill="#0000ff"/>
<rect x="1638.26" y="397.66" width="103.12" height="2.90" fill="#0000ff"/>
<rect x="1738.59" y="493.22" width="2.79" height="49.23" fill="#c85a23"/>
<rect x="1802.69" y="493.22" width="2.79" height="49.23" fill="#c85a23"/>
<rect x="1738.59" y="516.39" width="66.89" height="2.90" fill="#c85a23"/>
<text transform="translate(1659.17 38.00) scale(0.4160 0.3817)" font-family="'Liberation Serif', sans-serif" font-size="100" font-weight="bold" fill="#000">C</text>
<text transform="translate(1439.39 661.18) scale(0.1656 0.1679)" font-family="'Liberation Sans', sans-serif" font-size="100" font-weight="bold" fill="#0000ff">10</text>
<text transform="translate(1517.43 661.18) scale(0.1656 0.1679)" font-family="'Liberation Sans', sans-serif" font-size="100" font-weight="bold" fill="#0000ff">10</text>
<text transform="translate(1592.68 661.18) scale(0.1656 0.1679)" font-family="'Liberation Sans', sans-serif" font-size="100" font-weight="bold" fill="#0000ff">10</text>
<text transform="translate(1667.92 661.18) scale(0.1656 0.1679)" font-family="'Liberation Sans', sans-serif" font-size="100" font-weight="bold" fill="#0000ff">10</text>
<text transform="translate(1745.96 661.18) scale(0.1656 0.1679)" font-family="'Liberation Sans', sans-serif" font-size="100" font-weight="bold" fill="#0000ff">10</text>
<text transform="translate(1821.21 661.18) scale(0.1656 0.1679)" font-family="'Liberation Sans', sans-serif" font-size="100" font-weight="bold" fill="#0000ff">10</text>
<text transform="translate(1902.03 661.18) scale(0.1656 0.1679)" font-family="'Liberation Sans', sans-serif" font-size="100" font-weight="bold" fill="#0000ff">10</text>
<text transform="translate(1456.91 113.86) scale(0.2910 0.3777)" x="4.2 91.9 153.7 187.7 249.5 278.3 309.0 351.8 436.8 498.6 530.1 561.3 623.1 657.1 721.6 750.4 778.4" font-family="'Liberation Sans', sans-serif" font-size="100" filter="url(#thin)" fill="#000">Gate: (R2 in all)</text>
<text transform="translate(1429.03 144.32) rotate(-90) scale(0.2419 0.2768)" x="2.1 62.0 121.9" font-family="'Liberation Sans', sans-serif" font-size="100" stroke="#0000ff" stroke-width="1.60" stroke-linejoin="round" fill="#0000ff">500</text>
<text transform="translate(1429.03 242.53) rotate(-90) scale(0.2419 0.2768)" x="2.1 62.0 121.9" font-family="'Liberation Sans', sans-serif" font-size="100" stroke="#0000ff" stroke-width="1.60" stroke-linejoin="round" fill="#0000ff">400</text>
<text transform="translate(1429.03 439.82) rotate(-90) scale(0.2419 0.2768)" x="2.1 62.0 121.9" font-family="'Liberation Sans', sans-serif" font-size="100" stroke="#0000ff" stroke-width="1.60" stroke-linejoin="round" fill="#0000ff">200</text>
<text transform="translate(1429.03 622.13) rotate(-90) scale(0.2419 0.2768)" x="2.1" font-family="'Liberation Sans', sans-serif" font-size="100" stroke="#0000ff" stroke-width="1.60" stroke-linejoin="round" fill="#0000ff">0</text>
<text transform="translate(1392.80 463.44) rotate(-90) scale(0.2519 0.2768)" x="4.1 87.1 156.1 225.1 290.7" font-family="'Liberation Sans', sans-serif" font-size="100" stroke="#000" stroke-width="1.60" stroke-linejoin="round" fill="#000">Count</text>
<text transform="translate(1665.82 692.82) scale(0.2425 0.2877)" x="6.9 83.8 115.5 153.5" font-family="'Liberation Sans', sans-serif" font-size="100" stroke="#000" stroke-width="1.60" stroke-linejoin="round" fill="#000">PI-H</text>
<text transform="translate(1456.77 655.18) scale(0.2328 0.2877)" x="2.1" font-family="'Liberation Sans', sans-serif" font-size="100" stroke="#0000ff" stroke-width="1.60" stroke-linejoin="round" fill="#0000ff">1</text>
<text transform="translate(1533.76 655.18) scale(0.2328 0.2877)" x="2.1" font-family="'Liberation Sans', sans-serif" font-size="100" stroke="#0000ff" stroke-width="1.60" stroke-linejoin="round" fill="#0000ff">2</text>
<text transform="translate(1609.01 655.18) scale(0.2328 0.2877)" x="2.1" font-family="'Liberation Sans', sans-serif" font-size="100" stroke="#0000ff" stroke-width="1.60" stroke-linejoin="round" fill="#0000ff">3</text>
<text transform="translate(1685.77 655.18) scale(0.2328 0.2877)" x="2.1" font-family="'Liberation Sans', sans-serif" font-size="100" stroke="#0000ff" stroke-width="1.60" stroke-linejoin="round" fill="#0000ff">4</text>
<text transform="translate(1762.29 655.18) scale(0.2328 0.2877)" x="2.1" font-family="'Liberation Sans', sans-serif" font-size="100" stroke="#0000ff" stroke-width="1.60" stroke-linejoin="round" fill="#0000ff">5</text>
<text transform="translate(1837.43 655.18) scale(0.2328 0.2877)" x="2.1" font-family="'Liberation Sans', sans-serif" font-size="100" stroke="#0000ff" stroke-width="1.60" stroke-linejoin="round" fill="#0000ff">6</text>
<text transform="translate(1918.37 655.18) scale(0.2328 0.2877)" x="2.1 63.9 97.9" font-family="'Liberation Sans', sans-serif" font-size="100" stroke="#0000ff" stroke-width="1.60" stroke-linejoin="round" fill="#0000ff">7.2</text>
<text transform="translate(1534.79 267.80) scale(0.2910 0.3739)" x="4.2 91.9 153.7 187.7" font-family="'Liberation Sans', sans-serif" font-size="100" filter="url(#thin)" fill="#299503">G0/1</text>
<text transform="translate(1535.18 299.50) scale(0.2910 0.3732)" x="5.7 72.8 134.6 168.6 238.1" font-family="'Liberation Sans', sans-serif" font-size="100" filter="url(#thin)" fill="#299503">85.7%</text>
<text transform="translate(1688.84 337.00) scale(0.2910 0.3732)" x="5.0 84.9" font-family="'Liberation Sans', sans-serif" font-size="100" filter="url(#thin)" fill="#0000ff">S%</text>
<text transform="translate(1688.76 368.75) scale(0.2910 0.3732)" x="5.7 72.8 134.6 168.6 238.1" font-family="'Liberation Sans', sans-serif" font-size="100" filter="url(#thin)" fill="#0000ff">11.4%</text>
<text transform="translate(1546.92 423.75) scale(0.2910 0.3732)" x="3.7 63.2 130.2 195.8 283.5" font-family="'Liberation Sans', sans-serif" font-size="100" filter="url(#thin)" fill="#de0014">subG1</text>
<text transform="translate(1546.26 455.70) scale(0.2910 0.3725)" x="5.7 67.5 101.5 171.1" font-family="'Liberation Sans', sans-serif" font-size="100" filter="url(#thin)" fill="#de0014">0.7%</text>
<text transform="translate(1757.57 444.50) scale(0.2910 0.3732)" x="4.2 91.9 153.7 188.2" font-family="'Liberation Sans', sans-serif" font-size="100" filter="url(#thin)" fill="#c85a23">G2/m</text>
<text transform="translate(1755.51 476.20) scale(0.2910 0.3725)" x="5.7 67.5 101.5 171.1" font-family="'Liberation Sans', sans-serif" font-size="100" filter="url(#thin)" fill="#c85a23">3.4%</text>
<rect x="1596.26" y="80.11" width="3.19" height="2.10" fill="#000"/>
<rect x="0" y="0" width="2008" height="2.1" fill="#000"/>
<rect x="0" y="717.4" width="688" height="2.6" fill="#000"/>
<rect x="687" y="718.2" width="655" height="1.8" fill="#000"/>
<rect x="1341" y="717.3" width="667" height="2.7" fill="#000"/>
<rect x="0" y="0" width="2.8" height="720" fill="#000"/>
<rect x="2005.6" y="0" width="2.4" height="720" fill="#000"/>
</svg>
</body></html>
